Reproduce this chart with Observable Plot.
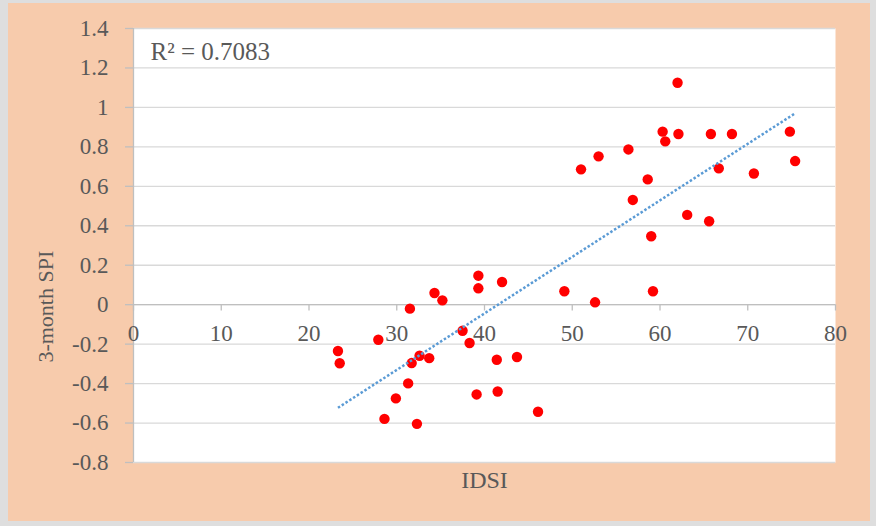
<!DOCTYPE html>
<html>
<head>
<meta charset="utf-8">
<script src="https://cdn.jsdelivr.net/npm/d3@7"></script>
<script src="https://cdn.jsdelivr.net/npm/@observablehq/plot@0.6"></script>
<style>
  html, body { margin: 0; padding: 0; background: #dedede; }
  #wrap { position: relative; width: 876px; height: 526px; background: #dedede; overflow: hidden; }
  #peach { position: absolute; left: 8px; top: 3px; width: 862px; height: 518px; background: #F7CBAC; }
  #chart { position: absolute; left: 0; top: 0; }
</style>
</head>
<body>
<div id="wrap"><div id="peach"></div><div id="chart"></div></div>
<script>
// IDSI (x) values
const idsi = [23.3, 23.5, 27.9, 31.5, 34.3, 35.2, 39.3, 39.3, 42.0, 37.5, 38.3, 32.6, 33.7, 31.7, 41.4, 43.7,
  31.3, 29.9, 39.1, 41.5, 28.6, 32.3, 46.1, 49.1, 52.6, 59.2, 62.0, 60.3, 62.1, 60.6, 65.8, 68.2,
  74.8, 75.4, 56.4, 53.0, 51.0, 58.6, 66.7, 70.7, 56.9, 63.1, 65.6, 59.0];
// 3-month SPI (y) values
const spi = [-0.235, -0.297, -0.178, -0.020, 0.059, 0.022, 0.147, 0.083, 0.115, -0.132, -0.194, -0.259, -0.271, -0.296, -0.279, -0.265,
  -0.399, -0.475, -0.455, -0.440, -0.579, -0.604, -0.543, 0.068, 0.012, 0.068, 1.125, 0.877, 0.865, 0.828, 0.865, 0.865,
  0.877, 0.728, 0.787, 0.752, 0.686, 0.635, 0.691, 0.665, 0.531, 0.455, 0.423, 0.347];
const xTicks = [0, 10, 20, 30, 40, 50, 60, 70, 80];
const yTicks = [-0.8, -0.6, -0.4, -0.2, 0, 0.2, 0.4, 0.6, 0.8, 1, 1.2, 1.4];
const xLabel = "IDSI";
const yLabel = "3-month SPI";
const r2Label = "R\u00B2 = 0.7083";

const points = idsi.map((x, i) => ({x, y: spi[i]}));

// least-squares trendline computed from the data (like the spreadsheet's linear trendline)
const mx = d3.mean(idsi), my = d3.mean(spi);
const slope = d3.sum(idsi, (x, i) => (x - mx) * (spi[i] - my)) / d3.sum(idsi, x => (x - mx) ** 2);
const intercept = my - slope * mx;
const [xmin, xmax] = d3.extent(idsi);
const trend = [xmin, xmax].map(x => ({x, y: intercept + slope * x}));

const font = "'Liberation Serif', 'Times New Roman', serif";
const textColor = "#595959";
const axisColor = "#bfbfbf";
const fmt = d => String(+d.toFixed(1));

const chart = Plot.plot({
  width: 876,
  height: 526,
  marginLeft: 133,
  marginRight: 41,
  marginTop: 28,
  marginBottom: 64,
  style: {background: "transparent", fontFamily: font},
  x: {domain: [0, 80], axis: null},
  y: {domain: [-0.8, 1.4], axis: null},
  marks: [
    Plot.frame({fill: "white", stroke: null}),
    Plot.gridY(yTicks, {stroke: "#d9d9d9", strokeOpacity: 1, strokeWidth: 1.3}),
    Plot.ruleY([0], {stroke: axisColor, strokeWidth: 1.3}),
    Plot.ruleX([0], {stroke: axisColor, strokeWidth: 1.3}),
    Plot.ruleX(xTicks, {x: d => d, y1: 0, y2: -0.032, stroke: axisColor, strokeWidth: 1.3}),
    Plot.axisY(yTicks, {tickSize: 8, tickPadding: 17, tickFormat: fmt, fontSize: 23, fill: textColor, stroke: axisColor, strokeWidth: 1.3, label: null, fontFamily: font}),
    Plot.text(xTicks, {x: d => d, y: 0, dy: 29, text: d => String(d), fontSize: 23, fill: textColor, fontFamily: font}),
    Plot.dot(points, {x: "x", y: "y", r: 5.2, fill: "#FF0000", stroke: null}),
    Plot.line(trend, {x: "x", y: "y", stroke: "#5b9bd5", strokeWidth: 2.5, strokeDasharray: "2.5 2", strokeLinecap: "butt"}),
    Plot.text([r2Label], {frameAnchor: "top-left", dx: 17, dy: 23.5, lineAnchor: "middle", textAnchor: "start", fontSize: 25, fill: textColor, fontFamily: font}),
    Plot.text([xLabel], {frameAnchor: "bottom", dy: 18, lineAnchor: "middle", fontSize: 24, fill: textColor, fontFamily: font}),
    Plot.text([yLabel], {x: 0, y: 0, dx: -88, dy: 2, rotate: -90, fontSize: 22, fill: textColor, fontFamily: font})
  ]
});
document.getElementById("chart").appendChild(chart);
</script>
</body>
</html>
